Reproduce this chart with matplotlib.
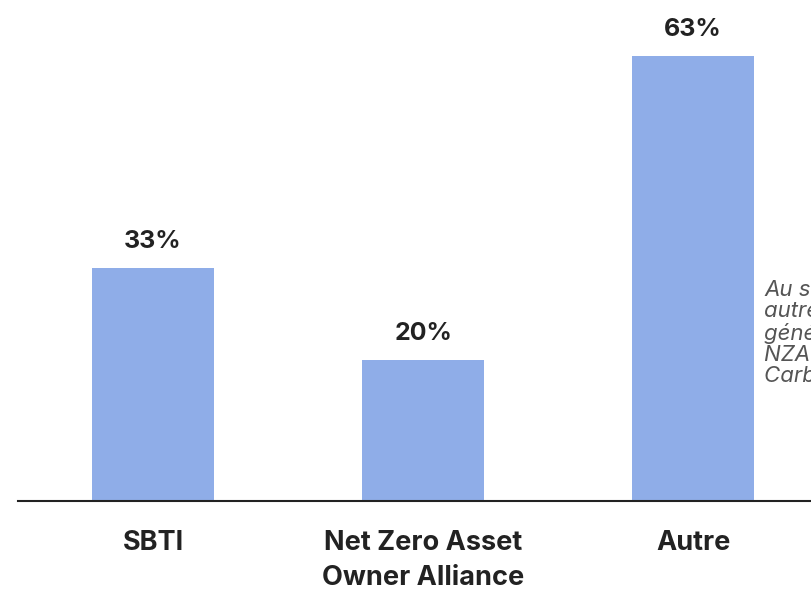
import matplotlib
matplotlib.use("Agg")
import matplotlib.pyplot as plt

categories = ["SBTI", "Net Zero Asset\nOwner Alliance", "Autre"]
values = [33, 20, 63]
value_labels = ["33%", "20%", "63%"]
note = "Au sein des\nautres, on retrouve\ngénéralement la\nNZAM, ou la Net Zero\nCarbon Alliance"

plt.rcParams['font.family'] = ['Inter', 'DejaVu Sans']

fig = plt.figure(figsize=(8.12, 5.9), dpi=100)
ax = fig.add_axes([18/812, 89/590, 1 - 18/812 + 0.02, 494/590])
ax.bar(range(len(values)), values, width=0.452, color="#8FADE8")
ax.set_xlim(-0.5, 2.44 + 0.02 * 812 / 270 * 1.0)
ax.set_ylim(0, 70)
for i, (v, lab) in enumerate(zip(values, value_labels)):
    ax.annotate(lab, (i, v), xytext=(0, 11), textcoords="offset points",
                ha="center", va="bottom", fontsize=18, fontweight="bold", color="#222222")
ax.set_xticks(range(len(categories)))
ax.set_xticklabels(categories, fontsize=19.5, fontweight="bold", color="#222222", linespacing=1.42)
ax.tick_params(axis="x", length=0, pad=21)
ax.set_yticks([])
for s in ["top", "right", "left"]:
    ax.spines[s].set_visible(False)
ax.spines["bottom"].set_color("#222222")
ax.spines["bottom"].set_linewidth(1.5)
fig.text(764/812, 1 - 280/590, note, ha="left", va="top", fontsize=16, style="italic",
         color="#555555", linespacing=1.08)
fig.savefig("out.png", dpi=100)
